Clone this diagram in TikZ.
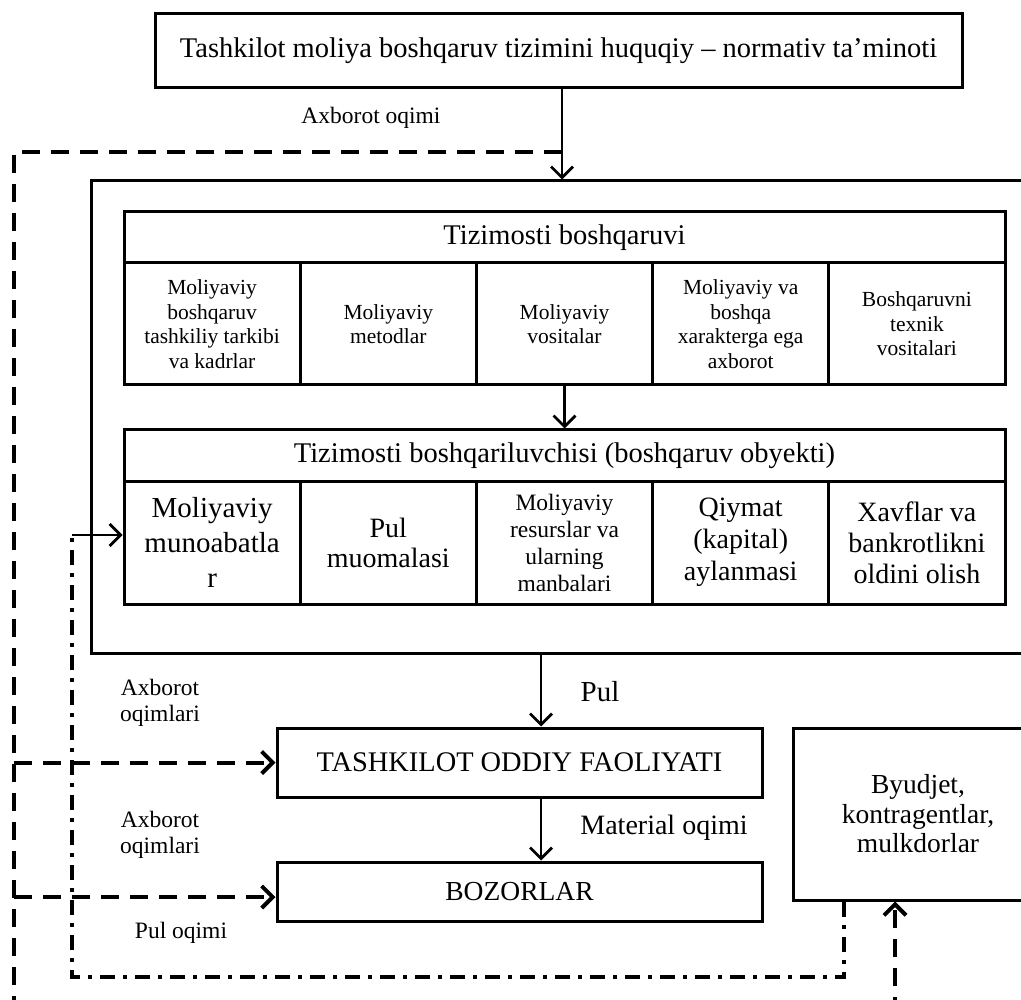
\documentclass[tikz,border=0pt]{standalone}
\usepackage{fontspec}
\setmainfont{Liberation Serif}
\usetikzlibrary{arrows.meta,calc}
\tikzset{
  box/.style={draw, line width=3pt, inner sep=0pt, align=center},
  tip/.style={-{Straight Barb[length=11pt,width=22pt]}},
  arr/.style={line width=2.8pt, tip},
  dsh/.style={line width=4pt, dash pattern=on 18pt off 11pt},
  dshd/.style={line width=3.4pt, dash pattern=on 15pt off 8pt on 4pt off 8pt},
  lbl/.style={inner sep=0pt, align=center, font=\fontsize{23.5}{26}\selectfont},
}
\newcommand{\fs}[2]{\fontsize{#1}{#2}\selectfont}
\begin{document}
\begin{tikzpicture}[x=1pt,y=-1pt]
\useasboundingbox (0,0) rectangle (1021,1000);
\clip (0,0) rectangle (1021,1000);
% top box
\node[box, minimum width=807pt, minimum height=74pt, font=\fs{28.5}{32}] (top) at (558.5,51) {Tashkilot moliya boshqaruv tizimini huquqiy -- normativ ta'minoti};
% outer frame
\node[box, minimum width=949pt, minimum height=472pt] (frame) at (565.5,417) {};
% upper block
\node[box, minimum width=881pt, minimum height=51pt, font=\fs{28.5}{30}] (uh) at (564.5,237.5) {Tizimosti boshqaruvi};
\foreach \i/\t in {1/{Moliyaviy\\boshqaruv\\tashkiliy tarkibi\\va kadrlar},
                   2/{Moliyaviy\\metodlar},
                   3/{Moliyaviy\\vositalar},
                   4/{Moliyaviy va\\boshqa\\xarakterga ega\\axborot},
                   5/{Boshqaruvni\\texnik\\vositalari}}
  \node[box, minimum width=176.2pt, minimum height=122pt, font=\fs{21.5}{24.5}] (uc\i) at ({124+176.2*(\i-0.5)},324) {\t};
% lower block
\node[box, minimum width=881pt, minimum height=51pt, font=\fs{28.5}{30}] (lh) at (564.5,455.5) {Tizimosti boshqariluvchisi (boshqaruv obyekti)};
\node[box, minimum width=176.2pt, minimum height=123pt, font=\fs{29}{35}] (lc1) at ({124+176.2*0.5},542.5) {Moliyaviy\\munoabatla\\r};
\node[box, minimum width=176.2pt, minimum height=123pt, font=\fs{28}{30}] (lc2) at ({124+176.2*1.5},542.5) {Pul\\muomalasi};
\node[box, minimum width=176.2pt, minimum height=123pt, font=\fs{23.5}{27}] (lc3) at ({124+176.2*2.5},542.5) {Moliyaviy\\resurslar va\\ularning\\manbalari};
\node[box, minimum width=176.2pt, minimum height=123pt, font=\fs{28}{32}] (lc4) at ({124+176.2*3.5},542.5) {Qiymat\\(kapital)\\aylanmasi};
\node[box, minimum width=176.2pt, minimum height=123pt, font=\fs{28}{31}] (lc5) at ({124+176.2*4.5},542.5) {Xavflar va\\bankrotlikni\\oldini olish};
% lower boxes
\node[box, minimum width=485pt, minimum height=69pt, font=\fs{28.4}{30}] (tof) at (519.5,762.5) {TASHKILOT ODDIY FAOLIYATI};
\node[box, minimum width=485pt, minimum height=59pt, font=\fs{27.5}{30}] (boz) at (519.5,891.5) {BOZORLAR};
\node[box, minimum width=250pt, minimum height=172pt, font=\fs{27.5}{29.5}] (byud) at (918,814) {Byudjet,\\kontragentlar,\\mulkdorlar};
% helper coordinates
\coordinate (xa) at (541,0);
\coordinate (xt) at (562,0);
\coordinate (dA) at (562,152);
\coordinate (dL) at (14,152);
\coordinate (dB) at (14,1015);
\coordinate (dR) at (895,1015);
\coordinate (dBz) at (14,897);
\coordinate (pS) at (844,0);
\coordinate (pB) at (844,977);
\coordinate (pL) at (72,977);
\coordinate (pT) at (72,535);
% solid arrows
\draw[arr] (top.south -| xt) -- (frame.north -| xt);
\draw[arr] (uc3.south) -- (uc3.south |- lh.north);
\draw[arr] (frame.south -| xa) -- (tof.north -| xa);
\draw[arr] (tof.south -| xa) -- (boz.north -| xa);
% dashed information flows
\draw[dsh] (dA) -- (dL) -- (dB) -- (dR);
\draw[dsh, tip] (dR) -- (dR |- byud.south);
\draw[dsh, tip] (dL |- tof.west) -- (tof.west);
\draw[dsh, tip] (dBz) -- (dBz -| boz.west);
% dash-dot money flow
\draw[dshd] (pS |- byud.south) -- (pB) -- (pL) -- (pT);
\draw[line width=2.8pt] (pT) -- ($(pT -| frame.west)+(9,0)$);
\draw[arr] ($(pT -| frame.west)+(9,0)$) -- (pT -| lc1.west);
% labels
\node[lbl] (l1) at (371,118) {Axborot oqimi};
\node[lbl] (l2) at (160,703) {Axborot\\oqimlari};
\node[lbl] (l3) at (160,835) {Axborot\\oqimlari};
\node[lbl] (l4) at (181,933) {Pul oqimi};
\node[lbl, font=\fs{29}{30}] (l5) at (600,692) {Pul};
\node[lbl, font=\fs{28}{30}] (l6) at (664,828) {Material oqimi};
\end{tikzpicture}
\end{document}
